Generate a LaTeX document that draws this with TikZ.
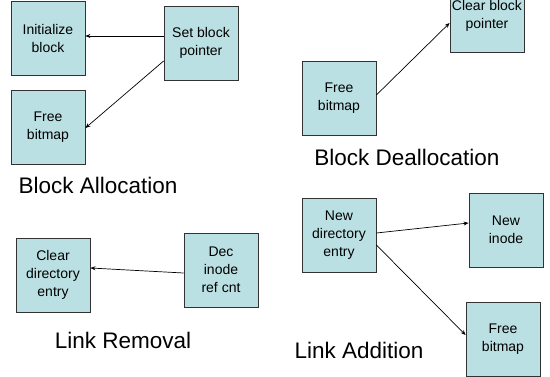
\documentclass[tikz,border=0pt]{standalone}
\usepackage{fontspec}
\setmainfont{Liberation Sans}
\usetikzlibrary{arrows.meta}
\definecolor{boxfill}{RGB}{187,224,227}
\definecolor{boxline}{RGB}{50,50,50}
\tikzset{
  stepbox/.style={draw=boxline, fill=boxfill, line width=0.8pt, minimum width=74pt, minimum height=74pt, inner sep=0pt, align=center, font=\fontsize{14}{18}\selectfont},
  arr/.style={draw=black, line width=0.7pt, -{Stealth[length=5pt,width=4pt]}},
  caption/.style={anchor=base, font=\fontsize{22.5}{26}\selectfont}
}
\begin{document}
\begin{tikzpicture}[x=1pt,y=1pt]
\useasboundingbox (0,0) rectangle (550,376);
\clip (0,0) rectangle (550,376);
% Block Allocation
\node[stepbox] (init) at (48,338) {Initialize\\block};
\node[stepbox] (set) at (201,333) {Set block\\pointer};
\node[stepbox] (free1) at (48,249) {Free\\bitmap};
\draw[arr] ([yshift=7pt]set.west) -- ([yshift=7pt]set.west -| init.east);
\draw[arr] ([yshift=-18pt]set.west) -- ([yshift=-1pt]free1.east);
\node[caption] (ba) at (98,183) {Block Allocation};
% Block Deallocation
\node[stepbox] (clearbp) at (487,360.5) {Clear block\\pointer};
\node[stepbox] (free2) at (339,278) {Free\\bitmap};
\draw[arr] ([yshift=3pt]free2.east) -- ([yshift=-7.5pt]clearbp.west);
\node[caption] (bd) at (407,211) {Block Deallocation};
% Link Removal
\node[stepbox] (cde) at (53,101) {Clear\\directory\\entry};
\node[stepbox] (dec) at (221,106) {Dec\\inode\\ref cnt};
\draw[arr] ([yshift=-3pt]dec.west) -- ([yshift=7pt]cde.east);
\node[caption] (lr) at (123,28) {Link Removal};
% Link Addition
\node[stepbox] (newdir) at (339,141) {New\\directory\\entry};
\node[stepbox] (newinode) at (506,146) {New\\inode};
\node[stepbox] (free3) at (503,37) {Free\\bitmap};
\draw[arr] ([yshift=2pt]newdir.east) -- ([yshift=7pt]newinode.west);
\draw[arr] ([yshift=-10pt]newdir.east) -- ([yshift=4pt]free3.west);
\node[caption] (la) at (359,18) {Link Addition};
\end{tikzpicture}
\end{document}
